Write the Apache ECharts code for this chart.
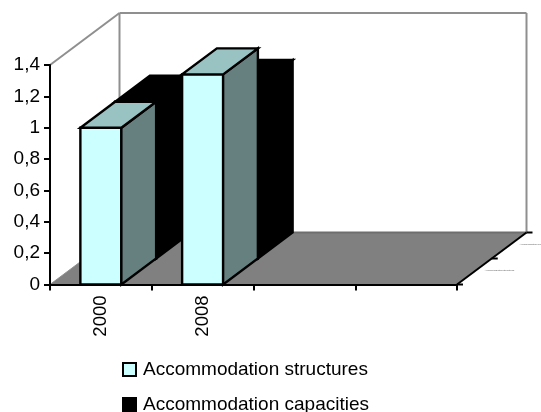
<!DOCTYPE html>
<html>
<head>
<meta charset="utf-8">
<style>html,body{margin:0;padding:0;background:#fff}#chart{width:541px;height:412px}</style>
<script src="https://cdn.jsdelivr.net/npm/echarts@6/dist/echarts.min.js"></script>
</head>
<body>
<div id="chart"></div>
<script>
// Chart data
const categories = ['2000', '2008', '', ''];
const structuresName = 'Accommodation structures';
const capacitiesName = 'Accommodation capacities';
const structures = [1, 1.34];
const capacities = [1, 1.1];
const yTicks = { min: 0, max: 1.4, step: 0.2 };

// Oblique projection of the depth axis, in pixels
const DEPTH_X = 69.5, DEPTH_Y = -52, ROWS = 2, BAR_SHARE = 0.403;
const FONT = '"Liberation Sans", Arial, sans-serif';
const GREY = '#8f8f8f';

function poly(points, fill, stroke, lineWidth) {
  return { type: 'polygon', shape: { points }, style: { fill, stroke, lineWidth, lineJoin: 'miter' } };
}
function seg(x1, y1, x2, y2, stroke, lineWidth) {
  return { type: 'line', shape: { x1, y1, x2, y2 }, style: { stroke, lineWidth, fill: null } };
}

// Box for one value, placed on its depth row
function boxRenderer(row, colors) {
  return function (params, api) {
    const idx = api.value(0);
    const top = api.coord([idx, api.value(1)]);
    const base = api.coord([idx, 0]);
    const w = api.size([1, 0])[0] * BAR_SHARE;
    const dx = DEPTH_X / ROWS, dy = DEPTH_Y / ROWS;
    const x0 = top[0] - w / 2 + dx * row, x1 = x0 + w;
    const yT = top[1] + dy * row, yB = base[1] + dy * row;
    return {
      type: 'group',
      children: [
        poly([[x0, yB], [x1, yB], [x1, yT], [x0, yT]], colors.front, '#000', 2.4),
        poly([[x1, yB], [x1 + dx, yB + dy], [x1 + dx, yT + dy], [x1, yT]], colors.side, '#000', 2.4),
        poly([[x0, yT], [x1, yT], [x1 + dx, yT + dy], [x0 + dx, yT + dy]], colors.top, '#000', 2.4)
      ]
    };
  };
}

// Floor, back wall, side wall and the depth axis with its small row labels
function roomRenderer(params, api) {
  const c = params.coordSys;
  const L = c.x, R = c.x + c.width, T = c.y, B = c.y + c.height;
  const dx = DEPTH_X, dy = DEPTH_Y;
  const midX = R + dx / 2, midY = B + dy / 2;
  const tiny = (text, x, y) => ({
    type: 'text',
    style: { text, x, y, font: '2.5px ' + FONT, fill: '#555', textAlign: 'left', textVerticalAlign: 'middle' }
  });
  return {
    type: 'group',
    children: [
      poly([[L, B], [L + dx, B + dy], [R + dx, B + dy], [R, B]], '#808080', null, 0),
      seg(L, T, L + dx, T + dy, GREY, 2),
      seg(L + dx, T + dy, R + dx, T + dy, GREY, 2),
      seg(L + dx, T + dy, L + dx, B + dy, GREY, 2),
      seg(R + dx, T + dy, R + dx, B + dy, GREY, 2),
      seg(L + dx, B + dy, R + dx, B + dy, '#6e6e6e', 2),
      seg(L, B, L + dx, B + dy, GREY, 1),
      seg(R, B, R + dx, B + dy, '#000', 2),
      seg(R, B, R + 6, B, '#000', 2),
      seg(midX, midY, midX + 6, midY, '#000', 2),
      seg(R + dx, B + dy, R + dx + 6, B + dy, '#000', 2),
      tiny(structuresName, midX - 7, midY + 12),
      tiny(capacitiesName, R + dx - 7, B + dy + 12)
    ]
  };
}

const chart = echarts.init(document.getElementById('chart'), null, { renderer: 'canvas' });
chart.setOption({
  animation: false,
  backgroundColor: '#fff',
  textStyle: { fontFamily: FONT },
  grid: { left: 50, top: 65, width: 407, height: 219.5 },
  legend: {
    left: 122, top: 360, height: 90, orient: 'vertical', itemGap: 16, itemWidth: 13, itemHeight: 13,
    padding: 0,
    selectedMode: false, icon: 'rect',
    textStyle: { fontFamily: FONT, fontSize: 19, color: '#000', padding: [0, 0, 0, 2] },
    data: [
      { name: structuresName, itemStyle: { color: '#CCFFFF', borderColor: '#000', borderWidth: 2 } },
      { name: capacitiesName, itemStyle: { color: '#000', borderColor: '#000', borderWidth: 2 } }
    ]
  },
  xAxis: {
    type: 'category', data: categories, z: 6,
    axisLine: { lineStyle: { color: '#000', width: 2 } },
    axisTick: { show: true, length: 6, alignWithLabel: false, lineStyle: { color: '#000', width: 2 } },
    axisLabel: { rotate: 90, interval: 0, color: '#000', fontSize: 18.5, fontFamily: FONT, margin: 11 },
    splitLine: { show: false }
  },
  yAxis: {
    type: 'value', min: yTicks.min, max: yTicks.max, interval: yTicks.step, z: 6,
    axisLine: { show: true, lineStyle: { color: '#000', width: 2 } },
    axisTick: { show: true, length: 6, lineStyle: { color: '#000', width: 2 } },
    axisLabel: {
      color: '#000', fontSize: 19, fontFamily: FONT, margin: 10,
      formatter: v => String(+v.toFixed(1)).replace('.', ',')
    },
    splitLine: { show: false }
  },
  series: [
    { type: 'custom', name: 'room', silent: true, z: 1, data: [[0, 0]], coordinateSystem: 'cartesian2d', renderItem: roomRenderer },
    {
      type: 'custom', name: capacitiesName, z: 2, encode: { x: 0, y: 1 },
      itemStyle: { color: '#000' },
      data: capacities.map((v, i) => [i, v]),
      renderItem: boxRenderer(1, { front: '#000', side: '#000', top: '#000' })
    },
    {
      type: 'custom', name: structuresName, z: 3, encode: { x: 0, y: 1 },
      itemStyle: { color: '#CCFFFF' },
      data: structures.map((v, i) => [i, v]),
      renderItem: boxRenderer(0, { front: '#CCFFFF', side: '#668080', top: '#99C2C2' })
    }
  ]
});
</script>
</body>
</html>
